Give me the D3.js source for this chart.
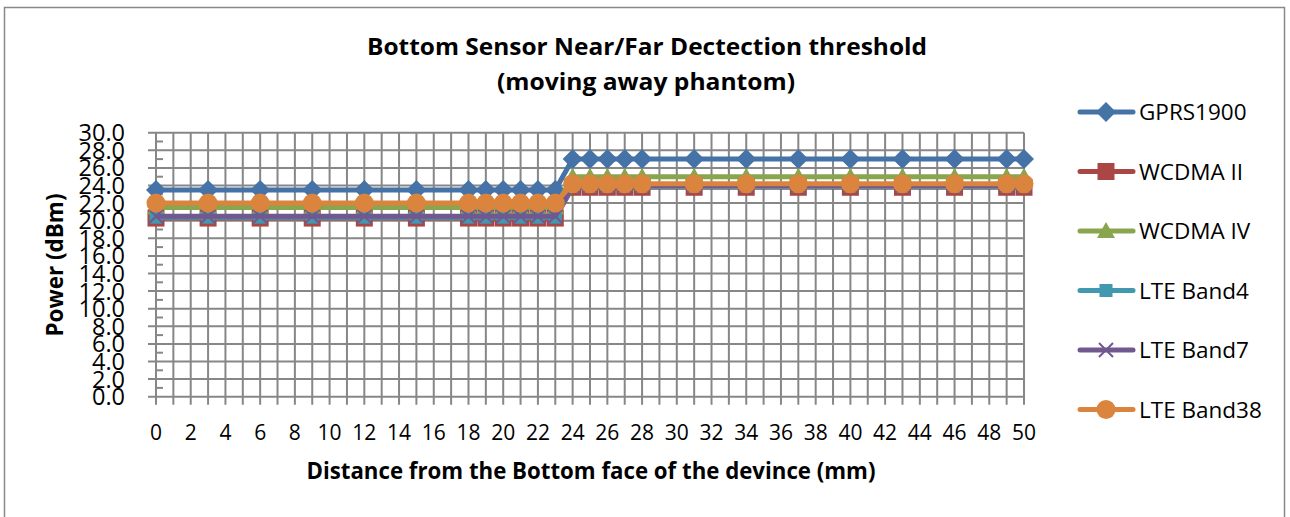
<!DOCTYPE html>
<html>
<head>
<meta charset="utf-8">
<script src="https://cdn.jsdelivr.net/npm/d3@7"></script>
<style>
  body { margin: 0; background: #fff; }
  svg { display: block; font-family: "Open Sans", sans-serif; }
</style>
</head>
<body>
<div id="chart"></div>
<script>
// distances (mm) where the power was measured
var distance = [0, 3, 6, 9, 12, 15, 18, 19, 20, 21, 22, 23, 24, 25, 26, 27, 28, 31, 34, 37, 40, 43, 46, 49, 50];

var gprs1900 = [23.5, 23.5, 23.5, 23.5, 23.5, 23.5, 23.5, 23.5, 23.5, 23.5, 23.5, 23.5,
  27.0, 27.0, 27.0, 27.0, 27.0, 27.0, 27.0, 27.0, 27.0, 27.0, 27.0, 27.0, 27.0];
var wcdmaII = [20.3, 20.3, 20.3, 20.3, 20.3, 20.3, 20.3, 20.3, 20.3, 20.3, 20.3, 20.3,
  23.8, 23.8, 23.8, 23.8, 23.8, 23.8, 23.8, 23.8, 23.8, 23.8, 23.8, 23.8, 23.8];
var wcdmaIV = [21.5, 21.5, 21.5, 21.5, 21.5, 21.5, 21.5, 21.5, 21.5, 21.5, 21.5, 21.5,
  25.0, 25.0, 25.0, 25.0, 25.0, 25.0, 25.0, 25.0, 25.0, 25.0, 25.0, 25.0, 25.0];
var lteBand4 = [20.4, 20.4, 20.4, 20.4, 20.4, 20.4, 20.4, 20.4, 20.4, 20.4, 20.4, 20.4,
  23.9, 23.9, 23.9, 23.9, 23.9, 23.9, 23.9, 23.9, 23.9, 23.9, 23.9, 23.9, 23.9];
var lteBand7 = [20.5, 20.5, 20.5, 20.5, 20.5, 20.5, 20.5, 20.5, 20.5, 20.5, 20.5, 20.5,
  24.0, 24.0, 24.0, 24.0, 24.0, 24.0, 24.0, 24.0, 24.0, 24.0, 24.0, 24.0, 24.0];
var lteBand38 = [22.0, 22.0, 22.0, 22.0, 22.0, 22.0, 22.0, 22.0, 22.0, 22.0, 22.0, 22.0,
  24.2, 24.2, 24.2, 24.2, 24.2, 24.2, 24.2, 24.2, 24.2, 24.2, 24.2, 24.2, 24.2];

var seriesNames = ["GPRS1900", "WCDMA II", "WCDMA IV", "LTE Band4", "LTE Band7", "LTE Band38"];
var seriesValues = [gprs1900, wcdmaII, wcdmaIV, lteBand4, lteBand7, lteBand38];
var seriesColors = ["#4572a7", "#aa4643", "#89a54e", "#4198af", "#71588f", "#db843d"];
var seriesMarkers = ["diamond", "square", "triangle", "smallsquare", "x", "circle"];

var xTicks = d3.range(0, 51, 2);
var yTicks = d3.range(0, 31, 2);

var width = 1290, height = 517;

var svg = d3.select("#chart")
  .append("svg")
    .attr("width", width)
    .attr("height", height);

// chart frame
svg.append("rect")
    .attr("x", 4.5).attr("y", 7.5)
    .attr("width", 1280).attr("height", 530)
    .attr("fill", "#fff")
    .attr("stroke", "#898989")
    .attr("stroke-width", 1.5);

var x = d3.scaleLinear().domain([0, 50]).range([156, 1024]);
var y = d3.scaleLinear().domain([0, 30]).range([396.7, 132.7]);

var gridColor = "#878787";
var grid = svg.append("g");

// vertical grid, one per mm
grid.selectAll(".vg")
  .data(d3.range(0, 51, 1))
  .enter().append("line")
    .attr("x1", function(d) { return x(d); })
    .attr("x2", function(d) { return x(d); })
    .attr("y1", y(30))
    .attr("y2", y(0) + 8)
    .attr("stroke", gridColor)
    .attr("stroke-width", 2);

// horizontal grid on majors, sticking out to the left as ticks
grid.selectAll(".hg")
  .data(yTicks)
  .enter().append("line")
    .attr("x1", x(0) - 8)
    .attr("x2", x(50))
    .attr("y1", function(d) { return y(d); })
    .attr("y2", function(d) { return y(d); })
    .attr("stroke", gridColor)
    .attr("stroke-width", 2);

// minor ticks inside
grid.selectAll(".mt")
  .data(d3.range(1, 30, 2))
  .enter().append("line")
    .attr("x1", x(0))
    .attr("x2", x(0) + 7)
    .attr("y1", function(d) { return y(d); })
    .attr("y2", function(d) { return y(d); })
    .attr("stroke", gridColor)
    .attr("stroke-width", 2);

// tick labels
svg.append("g").selectAll("text")
  .data(yTicks)
  .enter().append("text")
    .attr("x", 125)
    .attr("y", function(d) { return y(d); })
    .attr("dy", "0.36em")
    .attr("text-anchor", "end")
    .style("font-size", "23.5px")
    .text(function(d) { return d3.format(".1f")(d); });

svg.append("g").selectAll("text")
  .data(xTicks)
  .enter().append("text")
    .attr("x", function(d) { return x(d); })
    .attr("y", 439.5)
    .attr("text-anchor", "middle")
    .style("font-size", "21px")
    .text(function(d) { return d; });

// series
var line = d3.line()
  .x(function(d) { return x(d[0]); })
  .y(function(d) { return y(d[1]); });

function marker(g, type, color) {
  if (type == "diamond") {
    g.append("path").attr("d", d3.symbol(d3.symbolSquare, 200)()).attr("transform", "rotate(45)").attr("fill", color);
  } else if (type == "square") {
    g.append("rect").attr("x", -8.5).attr("y", -8.5).attr("width", 17).attr("height", 17).attr("fill", color);
  } else if (type == "smallsquare") {
    g.append("rect").attr("x", -6.5).attr("y", -6.5).attr("width", 13).attr("height", 13).attr("fill", color);
  } else if (type == "triangle") {
    g.append("path").attr("d", "M0,-9L9,7L-9,7Z").attr("fill", color);
  } else if (type == "x") {
    g.append("path").attr("d", "M-7,-7L7,7M-7,7L7,-7").attr("stroke", color).attr("stroke-width", 2).attr("fill", "none");
  } else {
    g.append("circle").attr("r", 9.5).attr("fill", color);
  }
}

seriesValues.forEach(function(vals, i) {
  var pts = distance.map(function(d, j) { return [d, vals[j]]; });
  var s = svg.append("g");
  s.append("path")
    .datum(pts)
    .attr("d", line)
    .attr("fill", "none")
    .attr("stroke", seriesColors[i])
    .attr("stroke-width", 5)
    .attr("stroke-linejoin", "round");
  s.selectAll(".m")
    .data(pts)
    .enter().append("g")
      .attr("transform", function(d) { return "translate(" + x(d[0]) + "," + y(d[1]) + ")"; })
      .each(function() { marker(d3.select(this), seriesMarkers[i], seriesColors[i]); });
});

// titles
function fitText(sel, len) {
  return sel.attr("textLength", len).attr("lengthAdjust", "spacingAndGlyphs");
}

fitText(svg.append("text")
    .attr("x", 647).attr("y", 55)
    .attr("text-anchor", "middle")
    .style("font-size", "24px").style("font-weight", "bold")
    .text("Bottom Sensor Near/Far Dectection threshold"), 560);

fitText(svg.append("text")
    .attr("x", 646).attr("y", 90)
    .attr("text-anchor", "middle")
    .style("font-size", "24px").style("font-weight", "bold")
    .text("(moving away phantom)"), 298);

fitText(svg.append("text")
    .attr("x", 591).attr("y", 479)
    .attr("text-anchor", "middle")
    .style("font-size", "23px").style("font-weight", "bold")
    .text("Distance from the Bottom face of the devince (mm)"), 569);

fitText(svg.append("text")
    .attr("transform", "translate(63,265) rotate(-90)")
    .attr("text-anchor", "middle")
    .style("font-size", "23px").style("font-weight", "bold")
    .text("Power (dBm)"), 143);

// legend
var legend = svg.append("g").selectAll("g")
  .data(seriesNames)
  .enter().append("g")
    .attr("transform", function(d, i) { return "translate(0," + (112 + i * 59.5) + ")"; });

legend.append("line")
    .attr("x1", 1080).attr("x2", 1133)
    .attr("stroke", function(d, i) { return seriesColors[i]; })
    .attr("stroke-width", 5)
    .attr("stroke-linecap", "round");

legend.append("g")
    .attr("transform", "translate(1106,0)")
    .each(function(d, i) { marker(d3.select(this), seriesMarkers[i], seriesColors[i]); });

legend.append("text")
    .attr("x", 1139)
    .attr("dy", "0.36em")
    .style("font-size", "22.5px")
    .text(function(d) { return d; });
</script>
</body>
</html>
